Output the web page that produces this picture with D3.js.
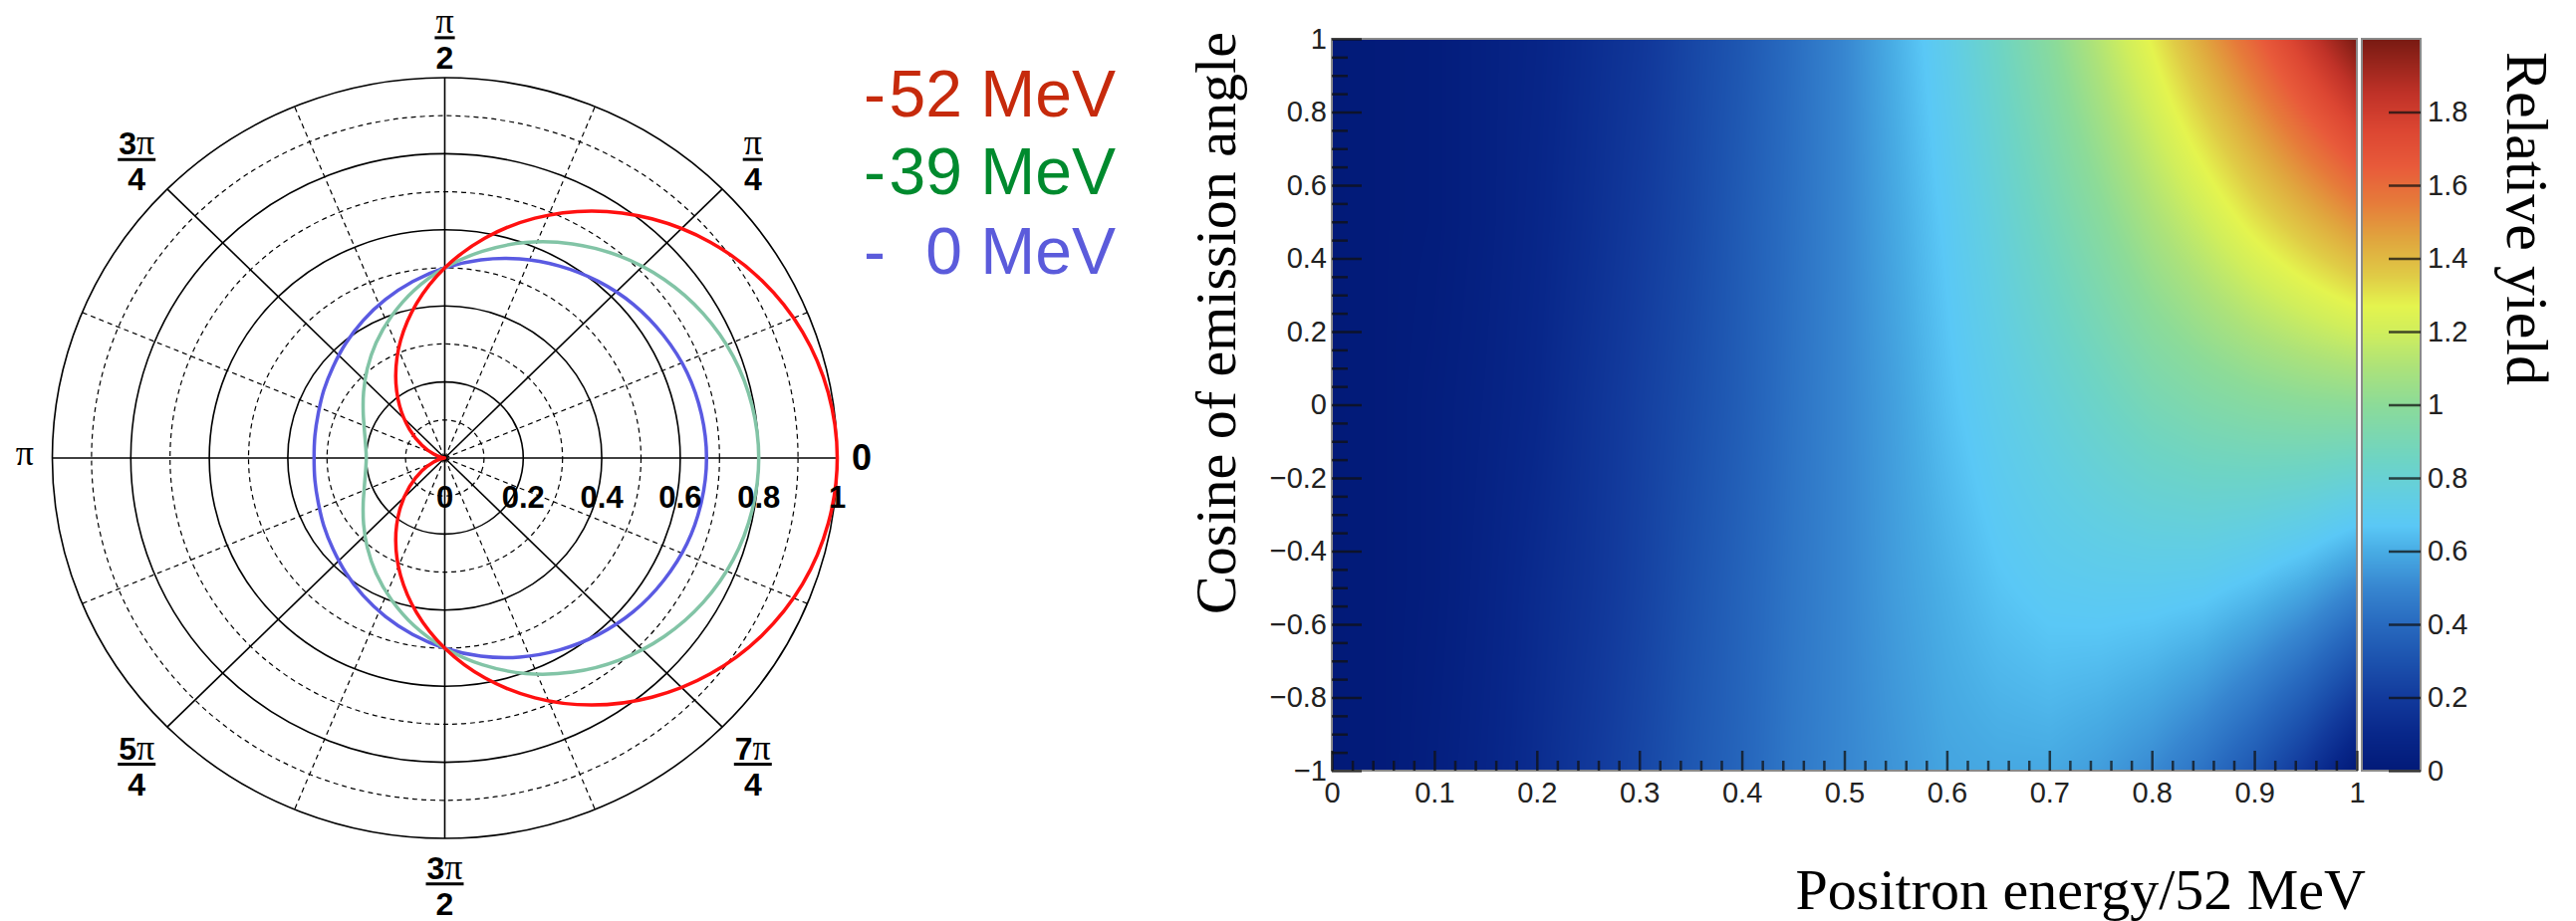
<!DOCTYPE html>
<html>
<head>
<meta charset="utf-8">
<script src="https://cdn.jsdelivr.net/npm/d3@7"></script>
<style>
  body { margin: 0; background: #ffffff; }
  svg { display: block; }
</style>
</head>
<body>
<svg id="chart" width="2586" height="925"></svg>
<script>
// ================= DATA: polar plot (angular emission distributions) =================
const polarAnglesDeg = [0,10,20,30,40,50,60,70,80,90,100,110,120,130,140,150,160,170,
                        180,190,200,210,220,230,240,250,260,270,280,290,300,310,320,330,340,350];
const seriesLabels = ["52 MeV", "39 MeV", "0 MeV"];
const radiusMinus52 = [1.000,0.992,0.970,0.933,0.883,0.821,0.750,0.671,0.587,0.500,0.413,0.329,0.250,0.179,0.117,0.067,0.030,0.008,
                       0.000,0.008,0.030,0.067,0.117,0.179,0.250,0.329,0.413,0.500,0.587,0.671,0.750,0.821,0.883,0.933,0.970,0.992];
const radiusMinus39 = [0.800,0.795,0.782,0.760,0.730,0.693,0.650,0.603,0.552,0.500,0.448,0.397,0.350,0.307,0.270,0.240,0.218,0.205,
                       0.200,0.205,0.218,0.240,0.270,0.307,0.350,0.397,0.448,0.500,0.552,0.603,0.650,0.693,0.730,0.760,0.782,0.795];
const radiusMinus0  = [0.667,0.664,0.657,0.644,0.628,0.607,0.583,0.557,0.529,0.500,0.471,0.443,0.417,0.393,0.372,0.356,0.343,0.336,
                       0.333,0.336,0.343,0.356,0.372,0.393,0.417,0.443,0.471,0.500,0.529,0.557,0.583,0.607,0.628,0.644,0.657,0.664];
const radialTickValues = [0, 0.2, 0.4, 0.6, 0.8, 1];
const radialTickLabels = ["0", "0.2", "0.4", "0.6", "0.8", "1"];
const angleLabelNum = ["0", "π", "π", "3π", "π", "5π", "3π", "7π"];
const angleLabelDen = ["",  "4", "2", "4",  "",  "4",  "2",  "4"];

// ================= DATA: heat map (relative yield vs energy and cos) =================
const energyGrid = [0,0.05,0.1,0.15,0.2,0.25,0.3,0.35,0.4,0.45,0.5,0.55,0.6,0.65,0.7,0.75,0.8,0.85,0.9,0.95,1.0];
const cosGrid = [-1, -0.5, 0, 0.5, 1];
const yieldCosM1  = [0,0.01,0.04,0.08,0.13,0.19,0.25,0.32,0.38,0.45,0.50,0.54,0.58,0.59,0.59,0.56,0.51,0.43,0.32,0.18,0.00];
const yieldCosM05 = [0,0.01,0.03,0.07,0.12,0.17,0.23,0.30,0.37,0.44,0.50,0.56,0.61,0.66,0.69,0.70,0.70,0.69,0.65,0.59,0.50];
const yieldCos0   = [0,0.01,0.03,0.06,0.10,0.16,0.22,0.28,0.35,0.43,0.50,0.57,0.65,0.72,0.78,0.84,0.90,0.94,0.97,0.99,1.00];
const yieldCosP05 = [0,0.01,0.02,0.05,0.09,0.14,0.20,0.26,0.34,0.42,0.50,0.59,0.68,0.78,0.88,0.98,1.09,1.19,1.30,1.40,1.50];
const yieldCosP1  = [0,0.01,0.02,0.05,0.08,0.13,0.18,0.25,0.32,0.41,0.50,0.61,0.72,0.85,0.98,1.13,1.28,1.45,1.62,1.81,2.00];
const xTickValues = [0,0.1,0.2,0.3,0.4,0.5,0.6,0.7,0.8,0.9,1];
const yTickValues = [-1,-0.8,-0.6,-0.4,-0.2,0,0.2,0.4,0.6,0.8,1];
const zTickValues = [0,0.2,0.4,0.6,0.8,1,1.2,1.4,1.6,1.8];
const xAxisTitle = "Positron energy/52 MeV";
const yAxisTitle = "Cosine of emission angle";
const zAxisTitle = "Relative yield";

// ================= DRAWING =================
const svg = d3.select("#chart");
const SANS = "'Liberation Sans', Arial, Helvetica, sans-serif";
const SERIF = "'Liberation Serif', 'Times New Roman', serif";

// ---------- polar panel ----------
const cx = 446.5, cy = 460, RX = 394, RY = 382;
const px = d3.scaleLinear().domain([-1, 1]).range([cx - RX, cx + RX]);
const py = d3.scaleLinear().domain([-1, 1]).range([cy + RY, cy - RY]);
const gP = svg.append("g");

const rings = d3.range(1, 11).map(i => i / 10);
gP.selectAll("ellipse.ring").data(rings).join("ellipse")
  .attr("class", "ring")
  .attr("cx", px(0)).attr("cy", py(0))
  .attr("rx", d => px(d) - px(0)).attr("ry", d => py(0) - py(d))
  .attr("fill", "none").attr("stroke", "#000")
  .attr("stroke-width", (d, i) => i % 2 ? 1.6 : 1.2)
  .attr("stroke-dasharray", (d, i) => i % 2 ? null : "5,4");

const spokes = d3.range(16).map(k => k * Math.PI / 8);
gP.selectAll("line.spoke").data(spokes).join("line")
  .attr("class", "spoke")
  .attr("x1", px(0)).attr("y1", py(0))
  .attr("x2", a => px(Math.cos(a))).attr("y2", a => py(Math.sin(a)))
  .attr("stroke", "#000")
  .attr("stroke-width", (a, k) => k % 2 ? 1.2 : 1.6)
  .attr("stroke-dasharray", (a, k) => k % 2 ? "5,4" : null);

// curves
const polarSeries = [
  { r: radiusMinus0,  color: "#5a5ae2" },
  { r: radiusMinus39, color: "#82c4a6" },
  { r: radiusMinus52, color: "#ff1010" }
];
const lineGen = d3.line()
  .x(d => px(d.r * Math.cos(d.a)))
  .y(d => py(d.r * Math.sin(d.a)))
  .curve(d3.curveCatmullRomClosed.alpha(0.5));
gP.selectAll("path.curve").data(polarSeries).join("path")
  .attr("class", "curve")
  .attr("d", s => lineGen(polarAnglesDeg.map((deg, i) => ({ a: deg * Math.PI / 180, r: s.r[i] }))))
  .attr("fill", "none").attr("stroke", s => s.color).attr("stroke-width", 3.5);

// radial tick labels
gP.selectAll("text.rlab").data(radialTickValues).join("text")
  .attr("class", "rlab")
  .attr("x", d => px(d)).attr("y", 510)
  .attr("text-anchor", "middle")
  .attr("font-family", SANS).attr("font-weight", "bold").attr("font-size", 31)
  .text((d, i) => radialTickLabels[i]);

// angular labels
function angleLabel(i) {
  const a = i * Math.PI / 4;
  const num = angleLabelNum[i], den = angleLabelDen[i];
  if (!den) {
    const x = px(1.07 * Math.cos(a));
    const t = gP.append("text").attr("x", x).attr("text-anchor", "middle");
    if (num === "π") {
      t.attr("y", 467).attr("font-family", SERIF).attr("font-size", 36).text(num);
    } else {
      t.attr("x", x - 3).attr("y", 472).attr("font-family", SANS).attr("font-weight", "bold").attr("font-size", 36).text(num);
    }
    return;
  }
  let x, barY;
  const s = Math.sin(a), c = Math.cos(a);
  if (Math.abs(c) < 1e-6) { x = px(0); barY = s > 0 ? py(1.105) : py(-1.12); }
  else { x = px(0.785 * Math.sign(c)); barY = s > 0 ? py(0.785) : py(-0.805); }
  const g = gP.append("g");
  const nt = g.append("text").attr("x", x).attr("y", barY - 5).attr("text-anchor", "middle");
  const digit = num.replace("π", "");
  if (digit) nt.append("tspan").attr("font-family", SANS).attr("font-weight", "bold").attr("font-size", 32).text(digit);
  nt.append("tspan").attr("font-family", SERIF).attr("font-size", 36).text("π");
  const dt = g.append("text").attr("x", x).attr("y", barY + 31).attr("text-anchor", "middle")
    .attr("font-family", SANS).attr("font-weight", "bold").attr("font-size", 32).text(den);
  const w = Math.max(nt.node().getComputedTextLength(), dt.node().getComputedTextLength()) + 2;
  g.append("line").attr("x1", x - w / 2).attr("x2", x + w / 2).attr("y1", barY).attr("y2", barY)
    .attr("stroke", "#000").attr("stroke-width", 3);
}
for (let i = 0; i < 8; i++) angleLabel(i);

// legend
const legendColors = ["#c62a0c", "#008a2e", "#5b5bdb"];
const legendBase = [117, 195, 275];
const gL = svg.append("g").attr("font-family", SANS).attr("font-size", 66);
seriesLabels.forEach((lab, i) => {
  gL.append("text").attr("x", 867).attr("y", legendBase[i]).attr("fill", legendColors[i]).text("-");
  gL.append("text").attr("x", 1120).attr("y", legendBase[i]).attr("text-anchor", "end")
    .attr("fill", legendColors[i]).text(lab);
});

// ---------- heat map panel ----------
const hx = d3.scaleLinear().domain([0, 1]).range([1337, 2366]);
const hy = d3.scaleLinear().domain([-1, 1]).range([774, 39]);
const hz = d3.scaleLinear().domain([0, 2]).range([774, 39]);
const cmapStops  = [0, 0.1, 0.2, 0.3, 0.4, 0.5, 0.6, 0.67, 0.75, 0.85, 1.0, 1.1, 1.2, 1.27, 1.35, 1.45, 1.55, 1.65, 1.75, 1.85, 2.0];
const cmapColors = ["#021a78", "#08278a", "#123a9c", "#1c52ae", "#286abf", "#3786d0", "#48ace4", "#5ac8f6",
                    "#62cee2", "#6ed4c4", "#8cdb98", "#ace27a", "#d0ee5c", "#e4f44e", "#e0cc46", "#e0a63e",
                    "#e67c3a", "#e85a3a", "#dc4632", "#c03228", "#781a12"];
const color = d3.scaleLinear().domain(cmapStops).range(cmapColors).interpolate(d3.interpolateRgb).clamp(true);

const LUTN = 2048;
const lut = d3.range(LUTN).map(i => d3.rgb(color(2 * i / (LUTN - 1))));
function lutColor(v) {
  const i = Math.max(0, Math.min(LUTN - 1, Math.round(v / 2 * (LUTN - 1))));
  return lut[i];
}

const yieldRows = [yieldCosM1, yieldCosM05, yieldCos0, yieldCosP05, yieldCosP1];
function cellIndex(grid, v) {
  let i = d3.bisectRight(grid, v) - 1;
  i = Math.max(0, Math.min(grid.length - 2, i));
  const t = (v - grid[i]) / (grid[i + 1] - grid[i]);
  return [i, Math.max(0, Math.min(1, t))];
}
function yieldAt(e, c) {
  const [i, tx] = cellIndex(energyGrid, e);
  const [j, ty] = cellIndex(cosGrid, c);
  const r0 = yieldRows[j], r1 = yieldRows[j + 1];
  const a = r0[i] * (1 - tx) + r0[i + 1] * tx;
  const b = r1[i] * (1 - tx) + r1[i + 1] * tx;
  return a * (1 - ty) + b * ty;
}

const X0 = hx(0), X1 = hx(1), Y0 = hy(1), Y1 = hy(-1);
const W = Math.round(X1 - X0), H = Math.round(Y1 - Y0);
const cvs = document.createElement("canvas");
cvs.width = W; cvs.height = H;
const ctx = cvs.getContext("2d");
const img = ctx.createImageData(W, H);
for (let yy = 0; yy < H; yy++) {
  const c = hy.invert(Y0 + yy + 0.5);
  for (let xx = 0; xx < W; xx++) {
    const e = hx.invert(X0 + xx + 0.5);
    const col = lutColor(yieldAt(e, c));
    const k = (yy * W + xx) * 4;
    img.data[k] = col.r; img.data[k + 1] = col.g; img.data[k + 2] = col.b; img.data[k + 3] = 255;
  }
}
ctx.putImageData(img, 0, 0);
const gH = svg.append("g");
gH.append("image").attr("x", X0).attr("y", Y0).attr("width", W).attr("height", H)
  .attr("preserveAspectRatio", "none").attr("href", cvs.toDataURL());

// colour bar
const CB0 = 2371, CB1 = 2430;
const cbW = CB1 - CB0;
const cvs2 = document.createElement("canvas");
cvs2.width = cbW; cvs2.height = H;
const ctx2 = cvs2.getContext("2d");
for (let yy = 0; yy < H; yy++) {
  const col = lutColor(hz.invert(Y0 + yy + 0.5));
  ctx2.fillStyle = col.formatRgb();
  ctx2.fillRect(0, yy, cbW, 1);
}
gH.append("image").attr("x", CB0).attr("y", Y0).attr("width", cbW).attr("height", H)
  .attr("preserveAspectRatio", "none").attr("href", cvs2.toDataURL());

// frames
gH.append("rect").attr("x", X0).attr("y", Y0).attr("width", W).attr("height", H)
  .attr("fill", "none").attr("stroke", "#8a8a8a").attr("stroke-width", 2);
gH.append("rect").attr("x", CB0).attr("y", Y0).attr("width", cbW).attr("height", H)
  .attr("fill", "none").attr("stroke", "#8a8a8a").attr("stroke-width", 2);

const fmt = d3.format("~g");
function styleAxis(g) {
  g.select(".domain").remove();
  g.attr("font-family", SANS).attr("font-size", 29);
  g.selectAll(".tick line").attr("stroke", "#111").attr("stroke-opacity", 0.75).attr("stroke-width", 2.5);
  g.selectAll(".tick text").attr("fill", "#222");
}
const minorX = d3.range(0, 51).map(i => i / 50).filter((v, i) => i % 5 !== 0);
const minorY = d3.range(0, 41).map(i => -1 + i / 20).filter((v, i) => i % 4 !== 0);

gH.append("g").attr("transform", `translate(0,${Y1})`)
  .call(d3.axisBottom(hx).tickValues(minorX).tickSize(-10).tickFormat("")).call(styleAxis);
gH.append("g").attr("transform", `translate(0,${Y1})`)
  .call(d3.axisBottom(hx).tickValues(xTickValues).tickSize(-20).tickPadding(11).tickFormat(fmt)).call(styleAxis);
gH.append("g").attr("transform", `translate(${X0},0)`)
  .call(d3.axisLeft(hy).tickValues(minorY).tickSize(-16).tickFormat("")).call(styleAxis);
gH.append("g").attr("transform", `translate(${X0},0)`)
  .call(d3.axisLeft(hy).tickValues(yTickValues).tickSize(-30).tickPadding(5).tickFormat(fmt)).call(styleAxis);
gH.append("g").attr("transform", `translate(${CB1},0)`)
  .call(d3.axisRight(hz).tickValues(zTickValues).tickSize(-32).tickPadding(7).tickFormat(fmt)).call(styleAxis);

// axis titles
gH.append("text").attr("x", 2375).attr("y", 913).attr("text-anchor", "end")
  .attr("font-family", SERIF).attr("font-size", 58).attr("fill", "#000").text(xAxisTitle);
gH.append("text").attr("transform", "translate(1240,324.5) rotate(-90)").attr("text-anchor", "middle")
  .attr("font-family", SERIF).attr("font-size", 58).attr("fill", "#000").text(yAxisTitle);
gH.append("text").attr("transform", "translate(2517,219.5) rotate(90)").attr("text-anchor", "middle")
  .attr("font-family", SERIF).attr("font-size", 60).attr("fill", "#000").text(zAxisTitle);
</script>
</body>
</html>
